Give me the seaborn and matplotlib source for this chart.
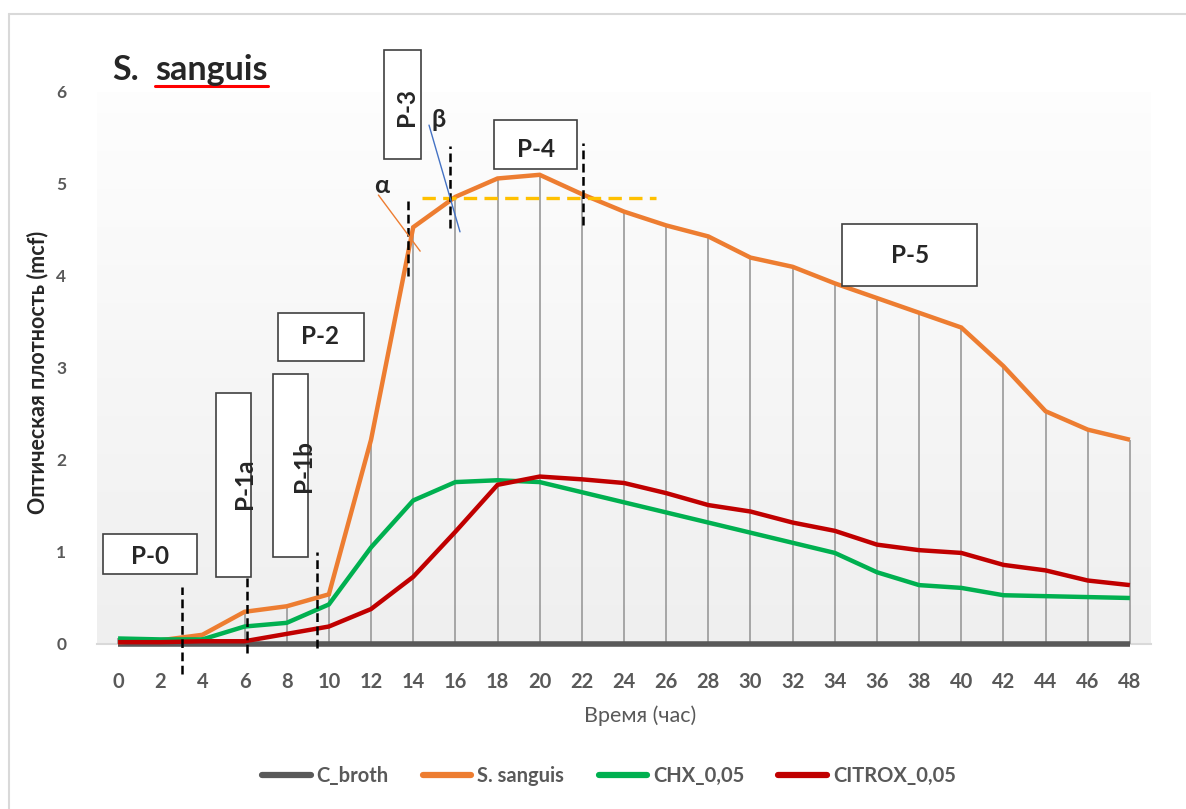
import numpy as np
import pandas as pd
import matplotlib
matplotlib.use("Agg")
import matplotlib.pyplot as plt
from matplotlib.patches import Rectangle
from matplotlib.lines import Line2D
from matplotlib.colors import LinearSegmentedColormap
import seaborn as sns

# ---- data -------------------------------------------------------------
hours = [0, 2, 4, 6, 8, 10, 12, 14, 16, 18, 20, 22, 24,
         26, 28, 30, 32, 34, 36, 38, 40, 42, 44, 46, 48]
c_broth = [0.0, 0.0, 0.0, 0.0, 0.0, 0.0, 0.0, 0.0, 0.0, 0.0, 0.0, 0.0, 0.0,
           0.0, 0.0, 0.0, 0.0, 0.0, 0.0, 0.0, 0.0, 0.0, 0.0, 0.0, 0.0]
s_sanguis = [0.02, 0.04, 0.10, 0.35, 0.41, 0.54, 2.22, 4.53, 4.86, 5.06, 5.10, 4.89, 4.70,
             4.55, 4.43, 4.20, 4.10, 3.92, 3.76, 3.60, 3.44, 3.02, 2.53, 2.33, 2.22]
chx = [0.06, 0.05, 0.05, 0.19, 0.23, 0.43, 1.05, 1.56, 1.76, 1.78, 1.76, 1.65, 1.54,
       1.43, 1.32, 1.21, 1.10, 0.99, 0.78, 0.64, 0.61, 0.53, 0.52, 0.51, 0.50]
citrox = [0.02, 0.02, 0.03, 0.03, 0.11, 0.19, 0.38, 0.73, 1.22, 1.73, 1.82, 1.79, 1.75,
          1.64, 1.51, 1.44, 1.32, 1.23, 1.08, 1.02, 0.99, 0.86, 0.80, 0.69, 0.64]

series_names = ["C_broth", "S. sanguis", "CHX_0,05", "CITROX_0,05"]
series_values = [c_broth, s_sanguis, chx, citrox]
series_colors = ["#595959", "#ED7D31", "#00B050", "#C00000"]
series_widths = [4.0, 3.2, 3.2, 3.2]

y_ticks = [0, 1, 2, 3, 4, 5, 6]
phase_labels = ["P-0", "P-1a", "P-1b", "P-2", "P-3", "P-4", "P-5"]

# long-form table for seaborn
df = pd.concat(
    [pd.DataFrame({"hour": hours, "od": vals, "series": name})
     for name, vals in zip(series_names, series_values)],
    ignore_index=True,
)

# ---- style ------------------------------------------------------------
sns.set_theme(style="white")
plt.rcParams["font.family"] = ["Lato", "DejaVu Sans"]
NARROW = ["Liberation Sans Narrow", "Lato", "DejaVu Sans"]
GREY = "#595959"

W, H = 1186, 809
fig = plt.figure(figsize=(W / 100, H / 100), dpi=100)
fig.patch.set_facecolor("white")


def fx(px):
    return px / W


def fy(py):
    return 1 - py / H


ax = fig.add_axes([fx(97), fy(644), fx(1151) - fx(97), fy(92) - fy(644)])

# soft vertical gradient in the plot area
grad_cmap = LinearSegmentedColormap.from_list("plotfill", ["#efefef", "#ffffff"])
ax.imshow(np.linspace(0, 1, 256).reshape(-1, 1), extent=(-1, 49, 0, 6.6),
          origin="lower", aspect="auto", cmap=grad_cmap, zorder=0)
ax.set_xlim(-1, 49)
ax.set_ylim(0, 6)

# drop lines from the highest series to the axis
tops = np.max(np.array(series_values), axis=0)
ax.vlines(hours, 0, tops, color="#a6a6a6", lw=1.4, zorder=1)

# series
for name, color, lw in zip(series_names, series_colors, series_widths):
    sns.lineplot(data=df[df["series"] == name], x="hour", y="od", color=color,
                 lw=lw, ax=ax, zorder=3, legend=False, clip_on=False,
                 solid_capstyle="butt", solid_joinstyle="miter")

# axes decoration
for side in ["left", "right", "top"]:
    ax.spines[side].set_visible(False)
ax.spines["bottom"].set_color("#d9d9d9")
ax.spines["bottom"].set_linewidth(1.5)
ax.spines["bottom"].set_zorder(0.5)
ax.set_xlabel("")
ax.set_ylabel("")
ax.set_xticks(hours)
ax.set_yticks(y_ticks)
ax.tick_params(axis="x", length=0, pad=20)
ax.tick_params(axis="y", length=0, pad=22)
for lab in ax.get_xticklabels():
    lab.set_fontfamily(NARROW)
    lab.set_fontweight("bold")
    lab.set_fontsize(14.5)
    lab.set_color(GREY)
for lab in ax.get_yticklabels():
    lab.set_fontweight("bold")
    lab.set_fontsize(12.5)
    lab.set_color(GREY)

# phase boundaries (dashed)
dash_lines = [(3.04, -0.33, 0.62), (6.12, -0.10, 0.73), (9.44, -0.04, 1.00),
              (13.76, 4.00, 4.83), (15.75, 4.52, 5.41), (22.06, 4.55, 5.45)]
for x, y0, y1 in dash_lines:
    ax.plot([x, x], [y0, y1], color="black", lw=1.8, ls=(0, (3.5, 1.8)),
            zorder=5, clip_on=False)

# plateau level
ax.plot([14.4, 25.5], [4.85, 4.85], color="#FFC000", lw=2.4,
        ls=(0, (4, 2.2)), zorder=4)

# tangent marks
ax.plot([12.35, 14.33], [4.88, 4.27], color="#ED7D31", lw=1.0, zorder=6)
ax.plot([14.75, 16.22], [5.64, 4.48], color="#4472C4", lw=1.0, zorder=6)
ax.text(12.5, 4.98, "α", fontsize=18, fontweight="bold", ha="center",
        va="center", zorder=7)
ax.text(15.2, 5.70, "β", fontsize=18, fontweight="bold", ha="center",
        va="center", zorder=7)

# phase boxes
boxes = [
    (-0.7, 0.76, 3.76, 1.20, 1.52, 0.95, 0),
    (4.65, 0.73, 6.32, 2.73, 6.00, 1.74, 90),
    (7.37, 0.95, 9.03, 2.93, 8.78, 1.93, 90),
    (7.59, 3.08, 11.67, 3.60, 9.58, 3.34, 0),
    (12.63, 5.27, 14.37, 6.46, 13.66, 5.84, 90),
    (17.85, 5.16, 21.78, 5.70, 19.83, 5.38, 0),
    (34.36, 3.89, 40.73, 4.56, 37.57, 4.22, 0),
]
for (x0, y0, x1, y1, tx, ty, rot), label in zip(boxes, phase_labels):
    ax.add_patch(Rectangle((x0, y0), x1 - x0, y1 - y0, facecolor="white",
                           edgecolor="#404040", lw=1.2, zorder=8,
                           clip_on=False))
    ax.text(tx, ty, label, fontsize=17.5, fontweight="bold", rotation=rot,
            ha="center", va="center", zorder=9, clip_on=False)

# title with underlined species name
fig.text(fx(112), fy(80), "S.", fontsize=24.5, fontweight="bold",
         ha="left", va="baseline")
t2 = fig.text(fx(155), fy(80), "sanguis", fontsize=24.5, fontweight="bold",
              ha="left", va="baseline")
fig.canvas.draw()
bb = t2.get_window_extent(renderer=fig.canvas.get_renderer())
fig.add_artist(Line2D([bb.x0 / W, bb.x1 / W], [fy(86), fy(86)],
                      color="#FF0000", lw=2.2, transform=fig.transFigure))

# axis titles
fig.text(fx(38), fy(372), "Оптическая плотность (mcf)", rotation=90,
         fontsize=15.5, fontweight="bold", ha="center", va="center")
fig.text(fx(640), fy(716), "Время (час)", fontsize=15.5, color=GREY,
         ha="center", va="center", family=NARROW)

# legend
handles = [Line2D([0], [0], color=c, lw=4.5) for c in series_colors]
leg = fig.legend(handles, series_names, loc="center",
                 bbox_to_anchor=(fx(609), fy(776)), ncol=4, frameon=False,
                 handlelength=2.4, columnspacing=1.7, handletextpad=0.3,
                 prop={"family": NARROW, "weight": "bold", "size": 14.5})
for txt in leg.get_texts():
    txt.set_color(GREY)

# outer frame
fig.add_artist(Line2D([fx(9), fx(9)], [0, fy(14)], color="#d9d9d9", lw=1.5,
                      transform=fig.transFigure))
fig.add_artist(Line2D([fx(9), 1], [fy(14), fy(14)], color="#d9d9d9", lw=1.5,
                      transform=fig.transFigure))

fig.savefig("out.png", dpi=100, facecolor="white")
